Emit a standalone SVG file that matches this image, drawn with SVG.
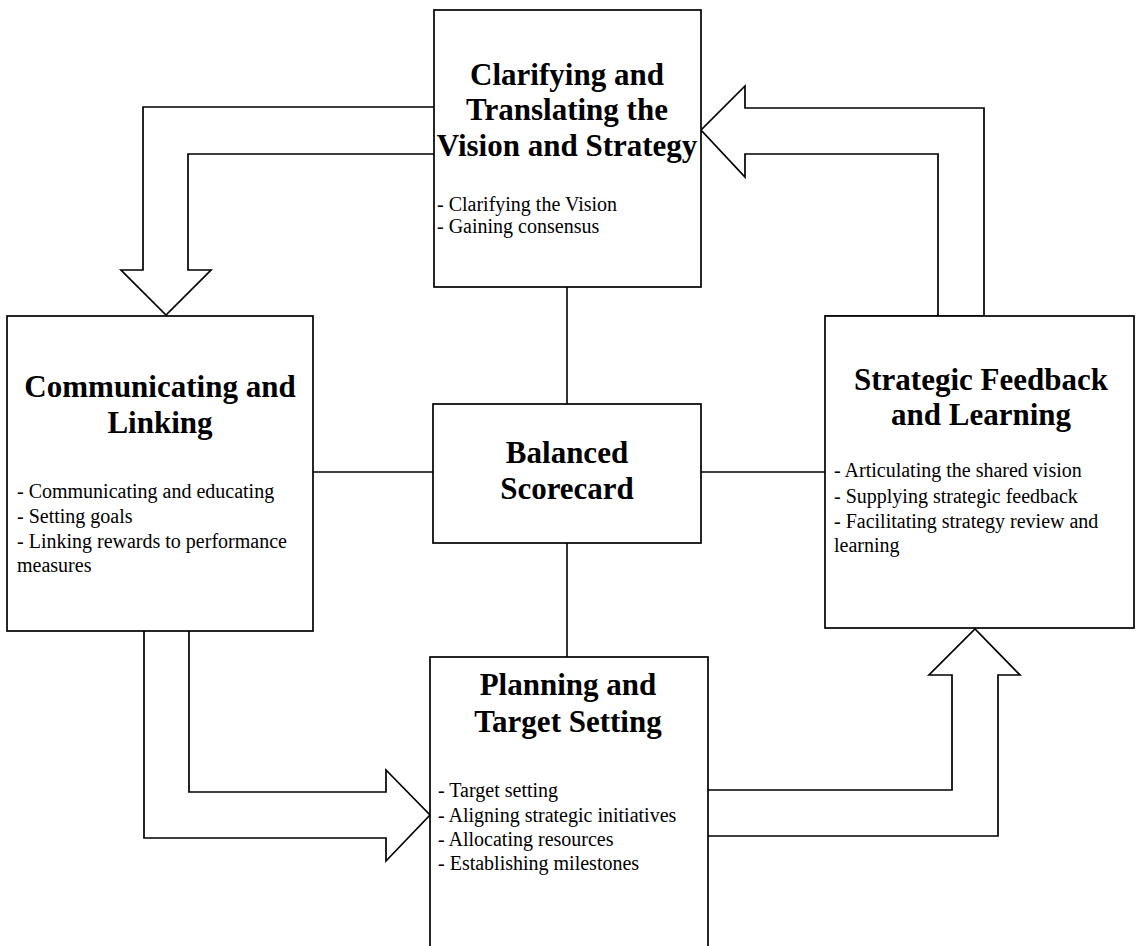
<svg xmlns="http://www.w3.org/2000/svg" width="1140" height="946" viewBox="0 0 1140 946">
<style>
.box{fill:#fff;stroke:#000;stroke-width:1.7}
.arr{fill:#fff;stroke:#000;stroke-width:1.7;stroke-linejoin:miter}
.ln{stroke:#000;stroke-width:1.6;fill:none}
.t{font-family:"Liberation Serif","Times New Roman",serif;font-weight:bold;font-size:31px;fill:#000;text-anchor:middle}
.b{font-family:"Liberation Serif","Times New Roman",serif;font-size:20px;fill:#000}
</style>
<rect width="1140" height="946" fill="#fff"/>
<g id="connectors">
<line class="ln" x1="567" y1="287" x2="567" y2="404"/>
<line class="ln" x1="567" y1="543" x2="567" y2="657"/>
<line class="ln" x1="313" y1="472" x2="433" y2="472"/>
<line class="ln" x1="701" y1="472" x2="825" y2="472"/>
<path class="arr" d="M434,107 L143,107 L143,270 L121,270 L166,315 L211,270 L188,270 L188,154 L434,154"/>
<path class="arr" d="M825,316 L984,316 L984,108 L745,108 L745,86 L701,130 L745,177 L745,154 L938,154 L938,316"/>
<path class="arr" d="M144,631 L144,838 L386,838 L386,861 L430,815 L386,770 L386,792 L189,792 L189,631"/>
<path class="arr" d="M708,790 L952,790 L952,675 L929,675 L975,629 L1020,675 L998,675 L998,836 L708,836"/>
</g>
<g id="clarifying">
<rect class="box" x="434" y="10" width="267" height="277"/>
<text class="t" x="567" y="85">Clarifying and</text>
<text class="t" x="567" y="120">Translating the</text>
<text class="t" x="567" y="156">Vision and Strategy</text>
<text class="b" x="437" y="211">- Clarifying the Vision</text>
<text class="b" x="437" y="233">- Gaining consensus</text>
</g>
<g id="communicating">
<rect class="box" x="7" y="316" width="306" height="315"/>
<text class="t" x="160" y="397">Communicating and</text>
<text class="t" x="160" y="433">Linking</text>
<text class="b" x="17" y="498">- Communicating and educating</text>
<text class="b" x="17" y="523">- Setting goals</text>
<text class="b" x="17" y="548">- Linking rewards to performance</text>
<text class="b" x="17" y="572">measures</text>
</g>
<g id="balanced">
<rect class="box" x="433" y="404" width="268" height="139"/>
<text class="t" x="567" y="463">Balanced</text>
<text class="t" x="567" y="499">Scorecard</text>
</g>
<g id="feedback">
<rect class="box" x="825" y="316" width="309" height="312"/>
<text class="t" x="981" y="390">Strategic Feedback</text>
<text class="t" x="981" y="425">and Learning</text>
<text class="b" x="834" y="477">- Articulating the shared vision</text>
<text class="b" x="834" y="503">- Supplying strategic feedback</text>
<text class="b" x="834" y="528">- Facilitating strategy review and</text>
<text class="b" x="834" y="552">learning</text>
</g>
<g id="planning">
<rect class="box" x="430" y="657" width="278" height="310"/>
<text class="t" x="568" y="695">Planning and</text>
<text class="t" x="568" y="732">Target Setting</text>
<text class="b" x="438" y="797">- Target setting</text>
<text class="b" x="438" y="822">- Aligning strategic initiatives</text>
<text class="b" x="438" y="846">- Allocating resources</text>
<text class="b" x="438" y="870">- Establishing milestones</text>
</g>
</svg>
